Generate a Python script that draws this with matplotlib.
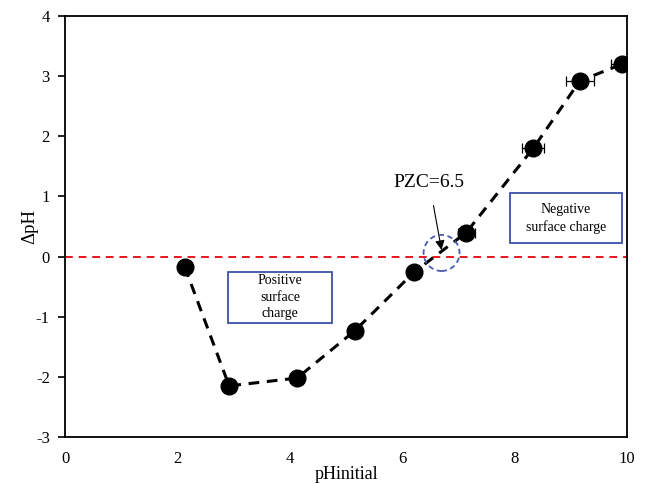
import matplotlib.pyplot as plt
from matplotlib.patches import Ellipse, Rectangle

plt.rcParams['font.family'] = ['Liberation Serif', 'DejaVu Serif']
plt.rcParams['axes.unicode_minus'] = False

# data
ph_initial = [2.13, 2.92, 4.13, 5.16, 6.21, 7.14, 8.33, 9.16, 9.91]
delta_ph = [-0.17, -2.15, -2.02, -1.23, -0.26, 0.40, 1.80, 2.92, 3.20]
ph_err = [0.0, 0.0, 0.08, 0.12, 0.12, 0.15, 0.2, 0.25, 0.2]

fig = plt.figure(figsize=(6.49, 4.84), dpi=100)
ax = fig.add_axes([0.1002, 0.0971, 0.8659, 0.8698])

ax.axhline(0, color='#e8141c', ls=(0, (4, 3)), lw=1.4, zorder=1)
ax.errorbar(ph_initial, delta_ph, xerr=ph_err, fmt='none', ecolor='black',
            elinewidth=0.9, capsize=3.5, capthick=0.9, zorder=2)
ax.plot(ph_initial, delta_ph, color='black', ls=(0, (3.5, 2.5)), lw=2.2,
        marker='o', markersize=12, zorder=3)

ax.set_xlim(0, 10)
ax.set_ylim(-3, 4)
ax.set_xticks(range(0, 11, 2))
ax.set_yticks(range(-3, 5))
ax.tick_params(axis='x', length=0, pad=10, labelsize=12)
ax.tick_params(axis='y', direction='out', length=5, width=1.2, labelsize=12, pad=6)
for s in ax.spines.values():
    s.set_linewidth(1.3)

ax.set_xlabel('pHinitial', fontsize=13, labelpad=-1)
ax.set_ylabel('ΔpH', fontsize=13.5, labelpad=-2)

# PZC marker
ax.add_patch(Ellipse((6.7, 0.06), 0.64, 0.6, fill=False, ec='#4a5ab0',
                     ls=(0, (3, 2)), lw=1.3, zorder=4))
ax.annotate('PZC=6.5', xy=(6.7, 0.11), xytext=(6.48, 1.24), fontsize=14,
            ha='center', va='center',
            arrowprops=dict(arrowstyle='-|>', color='black', lw=0.8,
                            shrinkA=9, shrinkB=0, mutation_scale=14))

# region boxes
ax.add_patch(Rectangle((2.9, -1.1), 1.85, 0.85, fill=False, ec='#3d4fa8', lw=1.3))
ax.text(3.825, -0.675, 'Positive\nsurface\ncharge', ha='center', va='center',
        fontsize=10, linespacing=1.35)
ax.add_patch(Rectangle((7.92, 0.22), 1.99, 0.84, fill=False, ec='#3d4fa8', lw=1.3))
ax.text(8.915, 0.64, 'Negative\nsurface charge', ha='center', va='center',
        fontsize=10, linespacing=1.4)

fig.savefig('out.png', dpi=100)
